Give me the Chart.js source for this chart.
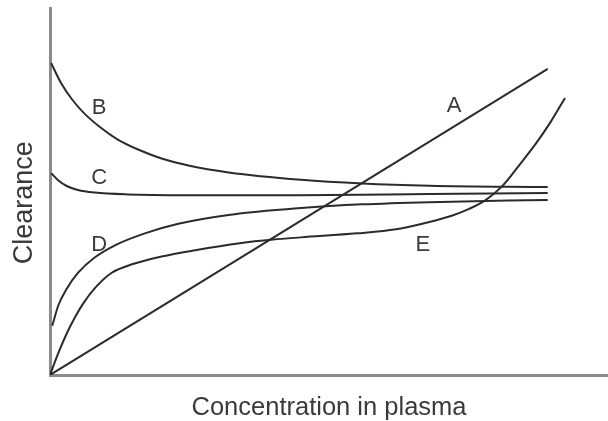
<!DOCTYPE html>
<html>
<head>
<meta charset="utf-8">
<script src="https://cdn.jsdelivr.net/npm/chart.js@4/dist/chart.umd.min.js"></script>
<style>
  html, body { margin: 0; padding: 0; background: #ffffff; }
  #wrap { width: 608px; height: 421px; position: relative; }
</style>
</head>
<body>
<div id="wrap"><canvas id="c"></canvas></div>
<script>
// Values (arbitrary units, 0-100 on both axes)
const aX = [0, 89.2];
const aY = [0, 83.4];

const bX = [0.2, 2, 4, 6, 9, 12, 16, 20, 25, 32, 45, 56, 68, 89.2];
const bY = [85.0, 79.5, 75.0, 71.5, 67.5, 64.3, 61.3, 59.0, 57.0, 55.2, 53.2, 52.2, 51.6, 51.2];

const cX = [0.2, 1.5, 3, 5, 8, 14, 24, 45, 68, 89.2];
const cY = [55.0, 53.0, 51.5, 50.4, 49.7, 49.2, 49.0, 49.0, 49.3, 49.6];

const dX = [0.4, 1.5, 3, 5, 8, 12, 17, 23, 32, 45, 56, 68, 89.2];
const dY = [13.4, 19.0, 23.5, 27.8, 32.0, 35.6, 38.6, 41.2, 43.6, 45.5, 46.5, 47.1, 47.7];

const eX = [0, 1.5, 3, 4.5, 6, 8, 11, 15, 20, 26, 34, 40, 45, 55, 62, 68, 72, 75, 78, 81, 84, 87, 89.7, 92.3];
const eY = [0, 6.0, 11.3, 15.8, 19.6, 23.6, 27.8, 30.3, 32.3, 34.0, 35.9, 36.9, 37.5, 38.6, 39.7, 41.7, 43.4, 45.2, 47.6, 51.4, 57.0, 62.9, 68.9, 75.5];

const labelText = ['A', 'B', 'C', 'D', 'E'];
const labelX = [72.4, 8.8, 8.8, 8.8, 66.8];
const labelY = [73.8, 73.2, 54.2, 36.0, 36.0];

const xTitle = 'Concentration in plasma';
const yTitle = 'Clearance';

const toPts = (xs, ys) => xs.map((x, i) => ({ x: x, y: ys[i] }));
const lineColor = '#2b2b2b';
const axisColor = '#8a8a8a';
const textColor = '#3a3a3a';
const fontFam = '"Liberation Sans", Arial, Helvetica, sans-serif';

function ds(name, xs, ys) {
  return {
    label: name,
    data: toPts(xs, ys),
    showLine: true,
    borderColor: lineColor,
    borderWidth: 2,
    pointRadius: 0,
    fill: false,
    cubicInterpolationMode: 'monotone'
  };
}

const curveLabels = {
  id: 'curveLabels',
  afterDatasetsDraw(chart) {
    const ctx = chart.ctx;
    const xs = chart.scales.x, ys = chart.scales.y;
    const size = 22;
    ctx.save();
    ctx.font = size + 'px ' + fontFam;
    ctx.fillStyle = textColor;
    ctx.textAlign = 'center';
    ctx.textBaseline = 'alphabetic';
    labelText.forEach((t, i) => {
      ctx.fillText(t, xs.getPixelForValue(labelX[i]), ys.getPixelForValue(labelY[i]) + size * 0.36);
    });
    ctx.restore();
  }
};

new Chart(document.getElementById('c'), {
  type: 'scatter',
  data: {
    datasets: [
      ds('A', aX, aY),
      ds('B', bX, bY),
      ds('C', cX, cY),
      ds('D', dX, dY),
      ds('E', eX, eY)
    ]
  },
  options: {
    responsive: true,
    maintainAspectRatio: false,
    animation: false,
    layout: { padding: { top: 8, right: 0, bottom: 0, left: 0 } },
    plugins: { legend: { display: false }, tooltip: { enabled: false } },
    scales: {
      x: {
        type: 'linear', min: 0, max: 100,
        grid: { display: false },
        ticks: { display: false },
        border: { display: true, color: axisColor, width: 3 },
        title: {
          display: true, text: xTitle, color: textColor,
          font: { family: fontFam, size: 25.5, lineHeight: 1 },
          padding: { top: 12, bottom: 0.5 }
        }
      },
      y: {
        type: 'linear', min: 0, max: 100,
        grid: { display: false },
        ticks: { display: false },
        border: { display: true, color: axisColor, width: 3 },
        title: {
          display: true, text: yTitle + '   ', color: textColor,
          font: { family: fontFam, size: 27, lineHeight: 1 },
          padding: { top: 11.5, bottom: 3.5 }
        }
      }
    }
  },
  plugins: [curveLabels]
});
</script>
</body>
</html>
